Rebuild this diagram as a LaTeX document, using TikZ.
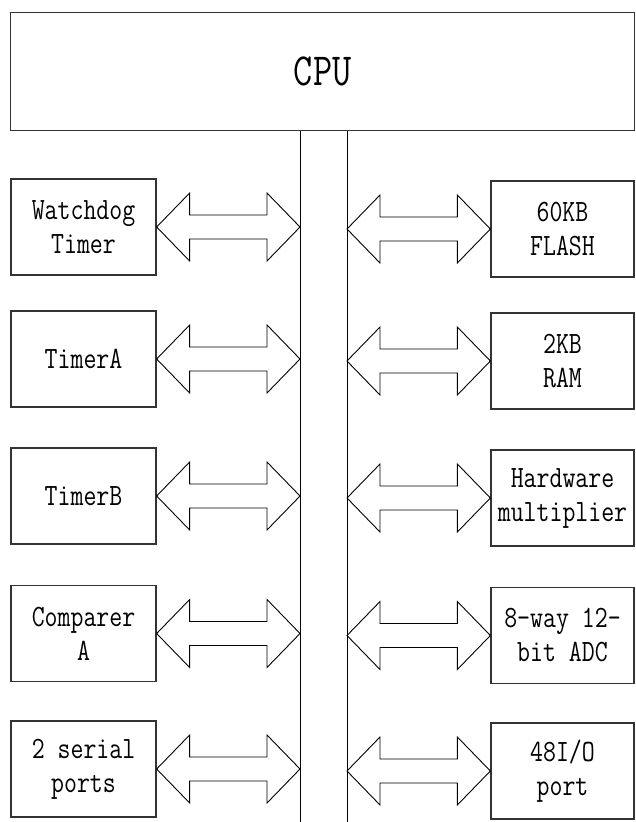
\documentclass[tikz,border=0pt]{standalone}
\usepackage{fontspec}
\setmainfont[FakeStretch=0.81]{Latin Modern Mono}
\usetikzlibrary{calc}
\tikzset{
  unit/.style={draw=black!80, line width=1.3pt, minimum width=145pt, minimum height=96pt,
    inner sep=0pt, align=center, font=\fontsize{31}{34}\selectfont, text=black},
  cpubox/.style={draw=black!80, line width=1.3pt, minimum width=624pt, minimum height=118pt,
    inner sep=0pt, font=\fontsize{46}{50}\selectfont, text=black},
  buslines/.style={draw=black, line width=1pt},
  dblarr/.style={draw=black, line width=0.9pt, line join=miter}
}
\newcommand{\busarrow}[2]{%
  \draw[dblarr] let \p1=(#1), \p2=(#2) in
    (\x1,\y1) -- (\x1+33pt,\y1+34pt) -- (\x1+33pt,\y1+12pt) -- (\x2-33pt,\y1+12pt)
    -- (\x2-33pt,\y1+34pt) -- (\x2,\y1) -- (\x2-33pt,\y1-34pt) -- (\x2-33pt,\y1-12pt)
    -- (\x1+33pt,\y1-12pt) -- (\x1+33pt,\y1-34pt) -- cycle;}
\begin{document}
\begin{tikzpicture}[x=1pt,y=-1pt]
\useasboundingbox (0,0) rectangle (635,822);
\node[cpubox, anchor=north west] (cpu) at (10,12) {CPU};
% bus
\coordinate (bl) at (300,822);
\coordinate (br) at (347,822);
\draw[buslines] (cpu.south -| bl) -- (bl);
\draw[buslines] (cpu.south -| br) -- (br);
% left units
\foreach \n/\t/\y in {l1/{Watchdog\\Timer}/227, l2/TimerA/359, l3/TimerB/496, l4/{Comparer\\A}/633.5, l5/{2 serial\\ports}/769}{
  \node[unit] (\n) at (83.5,\y) {\t};
}
% right units
\foreach \n/\t/\y in {r1/{60KB\\FLASH}/229, r2/{2KB\\RAM}/361, r3/{Hardware\\multiplier}/498, r4/{8-way 12-\\bit ADC}/635.5, r5/{48I/O\\port}/771}{
  \node[unit, minimum width=143pt] (\n) at (562.5,\y) {\t};
}
\foreach \i in {1,...,5}{
  \busarrow{l\i.east}{l\i.east -| bl}
  \busarrow{r\i.west -| br}{r\i.west}
}
\end{tikzpicture}
\end{document}
